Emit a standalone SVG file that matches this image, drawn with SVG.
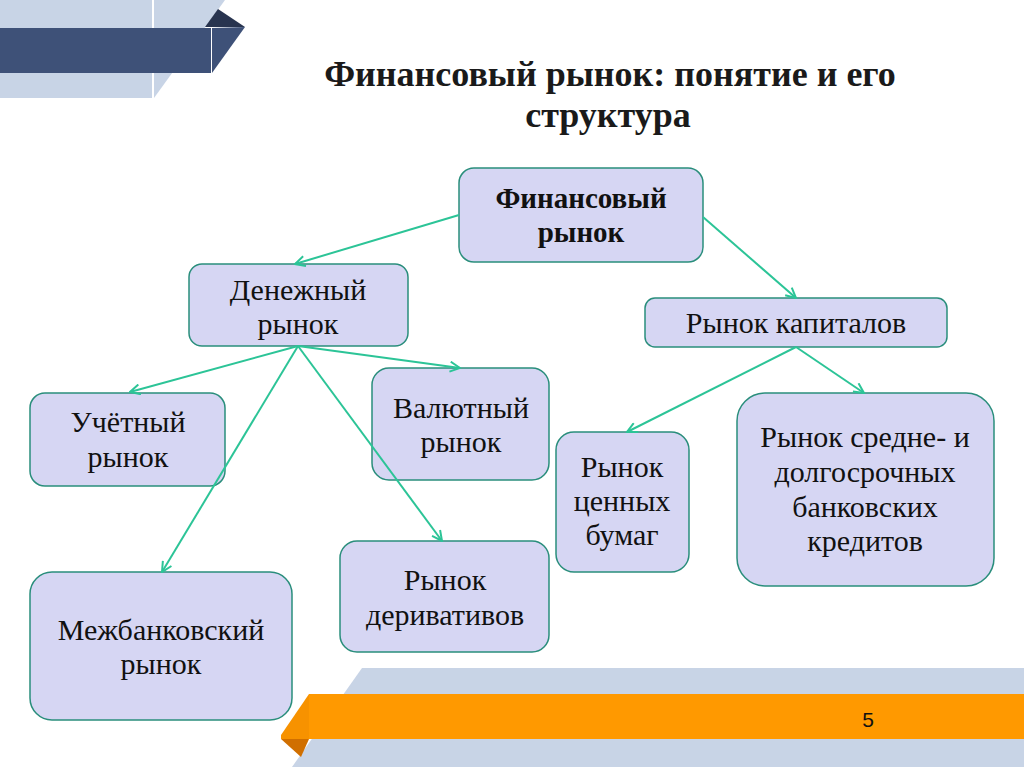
<svg xmlns="http://www.w3.org/2000/svg" width="1024" height="767" viewBox="0 0 1024 767">
<style>
.node rect{fill:#D6D6F3;stroke:#2A8E7C;stroke-width:1.5}
.node text{font-family:"Liberation Serif","Times New Roman",serif;font-size:30px;fill:#111;text-anchor:middle}
.node text.b{font-weight:bold;font-size:29px}
.title{font-family:"Liberation Serif","Times New Roman",serif;font-size:36px;font-weight:bold;fill:#1a1a1a;text-anchor:middle}
.conn line{stroke:#2CC497;stroke-width:2;marker-end:url(#ah)}
</style>
<defs>
<marker id="ah" viewBox="0 0 12 12" refX="11" refY="6" markerWidth="12" markerHeight="12" markerUnits="userSpaceOnUse" orient="auto">
<path d="M1,1 L11,6 L1,11" fill="none" stroke="#2CC497" stroke-width="2"/>
</marker>
</defs>
<rect width="1024" height="767" fill="#fff"/>
<g id="decor-top">
<rect x="0" y="0" width="152" height="98" fill="#C8D4E6"/>
<polygon points="154,0 225,0 154,98" fill="#C8D4E6"/>
<rect x="0" y="28" width="211" height="45" fill="#3E5178"/>
<polygon points="205,27 218,9 245,27" fill="#28344F"/>
<polygon points="212,28 245,27 212,73" fill="#3E5178"/>
</g>
<g id="decor-bottom">
<polygon points="362,668 1024,668 1024,767 292,767" fill="#C8D4E6"/>
<rect x="309" y="694" width="715" height="45" fill="#FF9900"/>
<polygon points="309,694 309,739 281,739 281,735" fill="#F79200"/>
<polygon points="281,739 309,739 301,757" fill="#D06F00"/>
<text x="868" y="727" font-family="Liberation Sans, Arial, sans-serif" font-size="21" fill="#111" text-anchor="middle">5</text>
</g>
<g id="title">
<text class="title" x="610" y="86">Финансовый рынок: понятие и его</text>
<text class="title" x="608" y="127">структура</text>
</g>
<g id="n-fin" class="node">
<rect x="459" y="168" width="244" height="94" rx="15"/>
<text class="b" x="581" y="208">Финансовый</text>
<text class="b" x="581" y="242">рынок</text>
</g>
<g id="n-money" class="node">
<rect x="189" y="264" width="219" height="82" rx="13"/>
<text x="298" y="300">Денежный</text>
<text x="298" y="334">рынок</text>
</g>
<g id="n-capital" class="node">
<rect x="645" y="298" width="302" height="49" rx="10"/>
<text x="796" y="333">Рынок капиталов</text>
</g>
<g id="n-discount" class="node">
<rect x="30" y="393" width="195" height="93" rx="15"/>
<text x="128" y="432">Учётный</text>
<text x="128" y="467">рынок</text>
</g>
<g id="n-currency" class="node">
<rect x="372" y="368" width="177" height="112" rx="17"/>
<text x="461" y="418">Валютный</text>
<text x="461" y="452">рынок</text>
</g>
<g id="n-interbank" class="node">
<rect x="30" y="572" width="262" height="148" rx="22"/>
<text x="161" y="640">Межбанковский</text>
<text x="161" y="674">рынок</text>
</g>
<g id="n-deriv" class="node">
<rect x="340" y="541" width="209" height="111" rx="17"/>
<text x="445" y="590">Рынок</text>
<text x="445" y="625">деривативов</text>
</g>
<g id="n-securities" class="node">
<rect x="556" y="432" width="133" height="140" rx="18"/>
<text x="622" y="477">Рынок</text>
<text x="622" y="511">ценных</text>
<text x="622" y="545">бумаг</text>
</g>
<g id="n-credit" class="node">
<rect x="737" y="393" width="257" height="193" rx="28"/>
<text x="865" y="447">Рынок средне- и</text>
<text x="865" y="482">долгосрочных</text>
<text x="865" y="517">банковских</text>
<text x="865" y="551">кредитов</text>
</g>
<g id="connectors" class="conn">
<line x1="459" y1="215" x2="295" y2="264"/>
<line x1="703" y1="217" x2="796" y2="298"/>
<line x1="298" y1="346" x2="130" y2="392"/>
<line x1="298" y1="346" x2="460" y2="368"/>
<line x1="298" y1="346" x2="162" y2="572"/>
<line x1="298" y1="346" x2="442" y2="541"/>
<line x1="796" y1="347" x2="627" y2="432"/>
<line x1="796" y1="347" x2="864" y2="393"/>
</g>
</svg>
